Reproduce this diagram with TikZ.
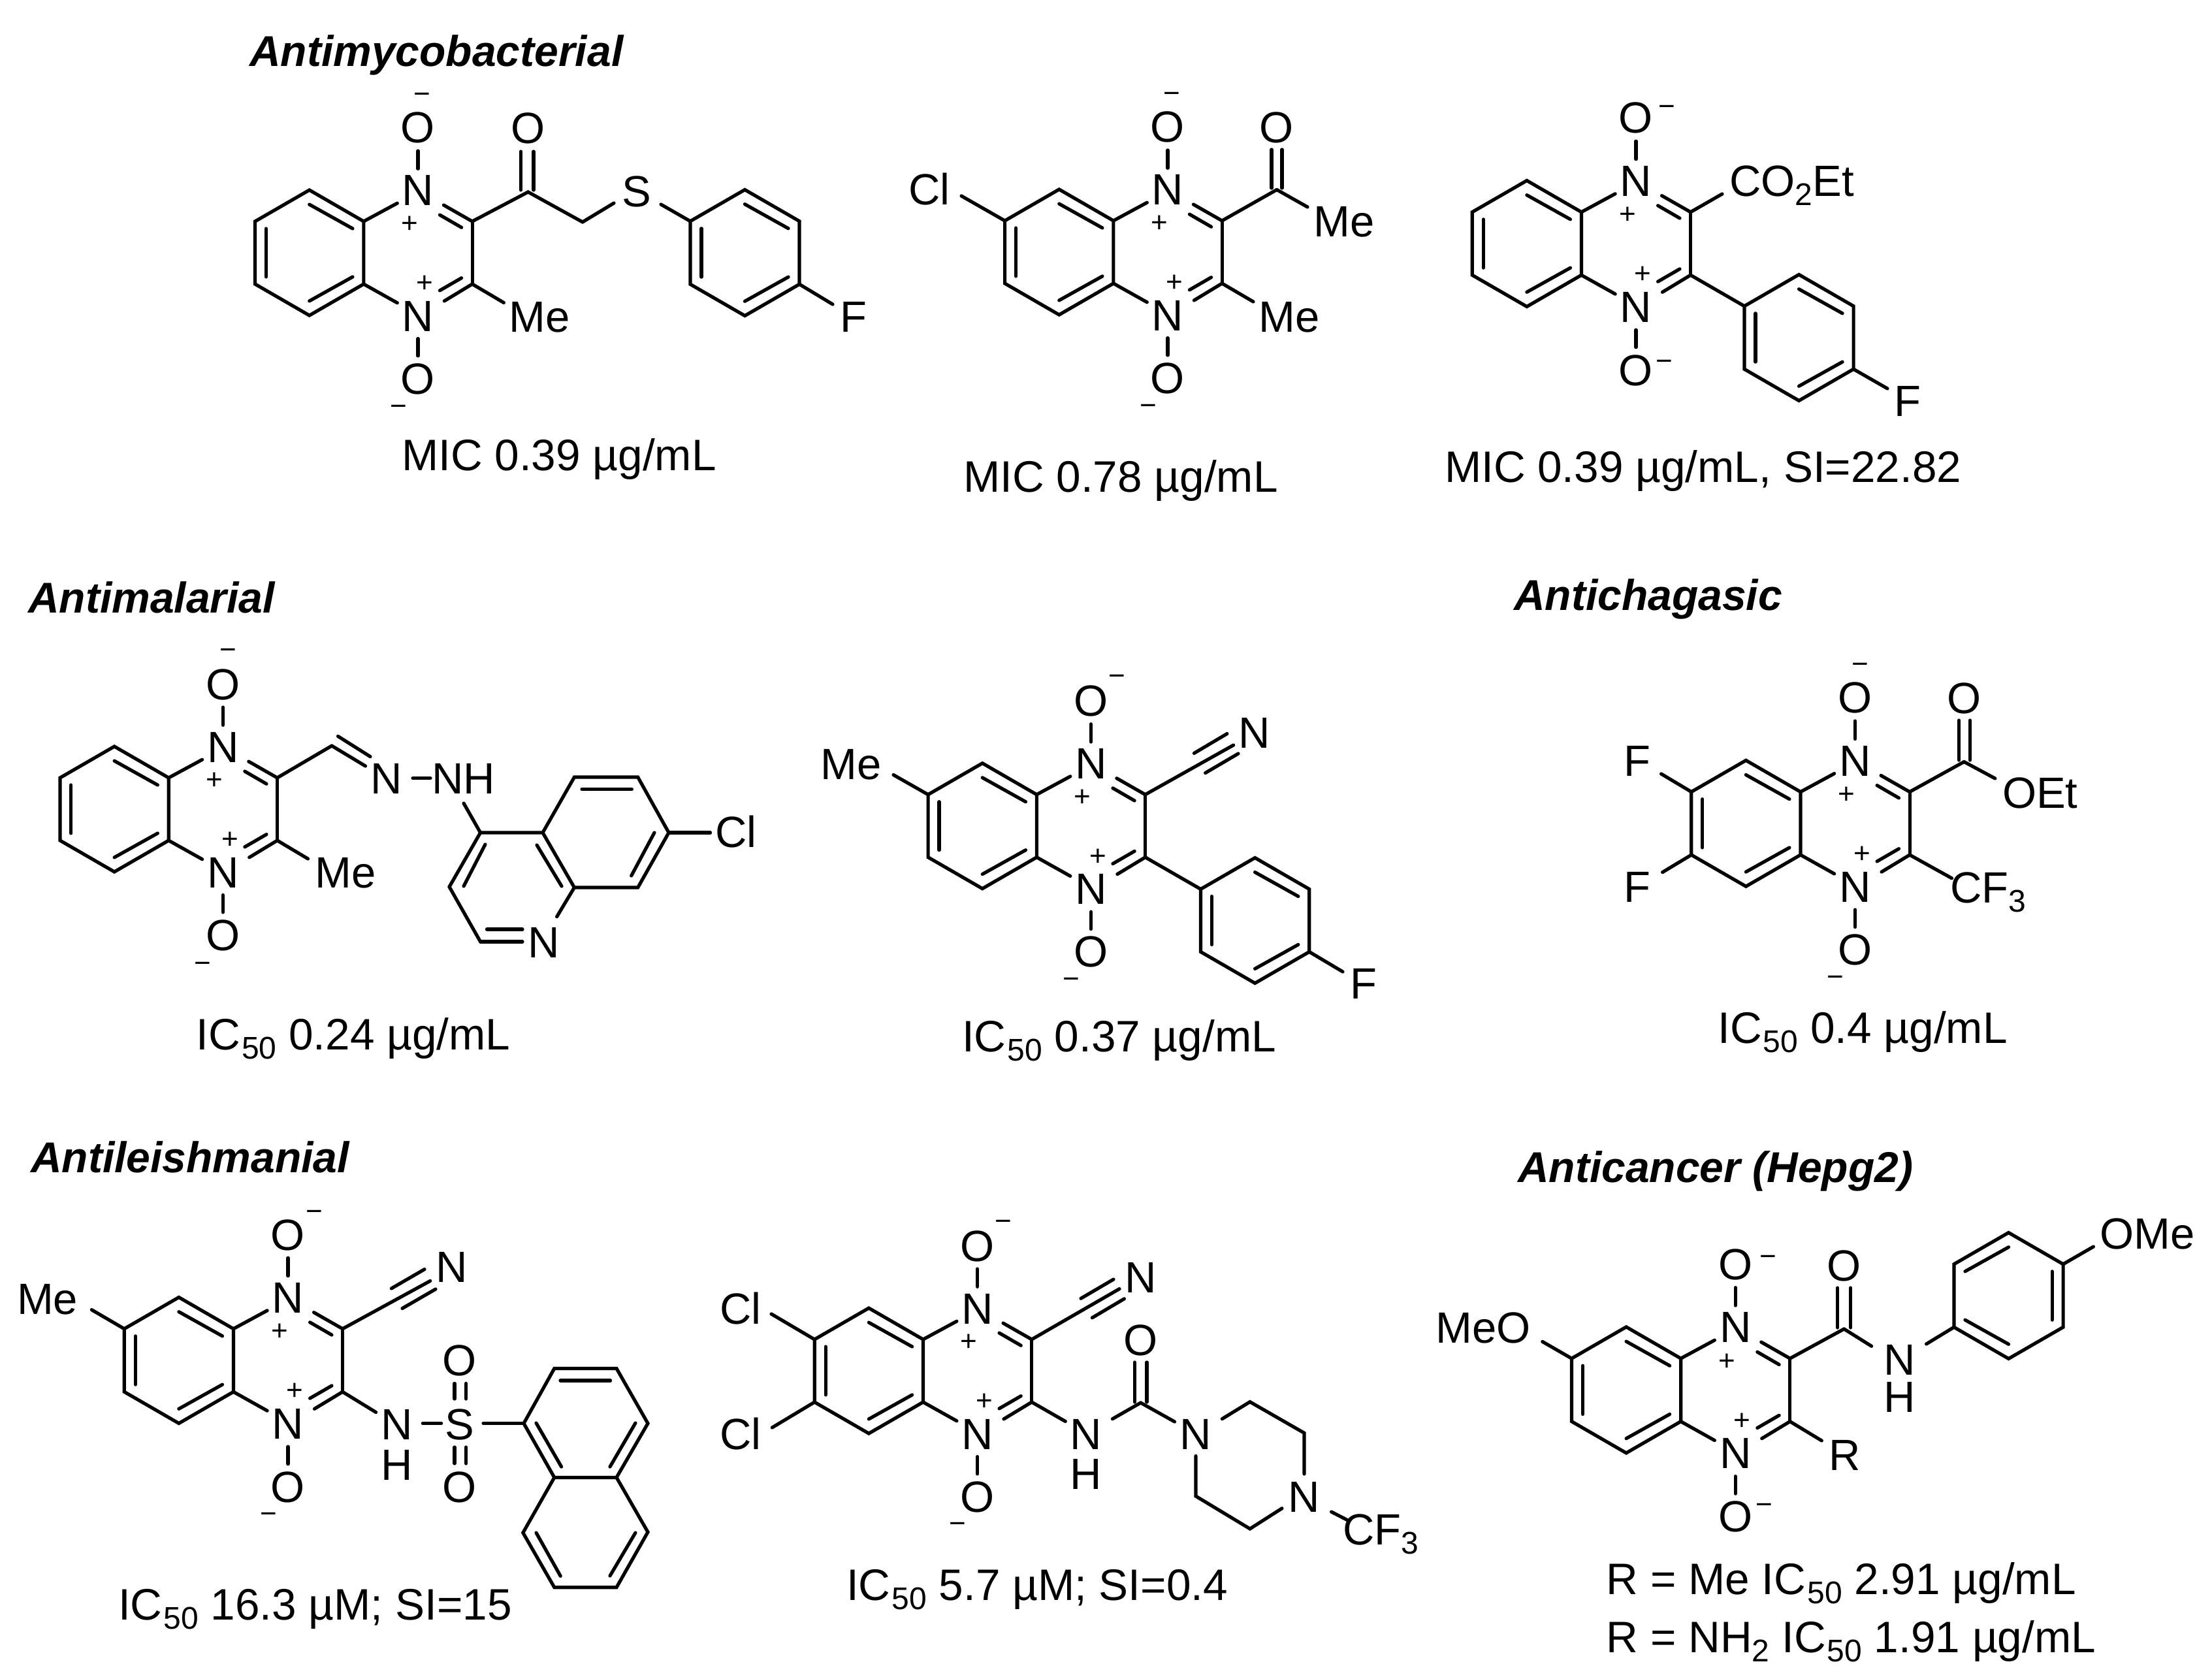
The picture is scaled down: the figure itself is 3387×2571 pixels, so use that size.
\documentclass[tikz,border=0pt]{standalone}
\usepackage{fontspec}
\setmainfont{Liberation Sans}
\newcommand\atomfont{\fontsize{67}{72}\selectfont}
\newcommand\capfont{\fontsize{67.5}{72}\selectfont}
\newcommand\hdrfont{\fontsize{66}{72}\selectfont}
\newcommand\chgfont{\fontsize{44}{48}\selectfont}
\newcommand\low[1]{\raisebox{-14pt}{\fontsize{48}{50}\selectfont #1}}
\newcommand\sublow[1]{\kern2pt\low{#1}}
\tikzset{
  bond/.style={line width=5.2pt,line cap=round,line join=miter,black},
  lab/.style={inner sep=0pt,text height=48pt,text depth=0pt,font=\atomfont,anchor=center},
  labw/.style={lab,anchor=west},
  chg/.style={inner sep=0pt,text height=29pt,text depth=0pt,font=\chgfont,anchor=center},
  capt/.style={inner sep=0pt,font=\capfont,anchor=base},
  captw/.style={capt,anchor=base west},
  hdr/.style={inner sep=0pt,font=\hdrfont\bfseries\itshape,anchor=base west},
}
% bond from a named point to a named free end
\newcommand\Bd[3]{\coordinate (#1) at (#3); \draw[bond] (#2) -- (#1);}
% free short stroke between two named ends
\newcommand\Ln[3]{\coordinate (#1a) at (#2); \coordinate (#1b) at (#3); \draw[bond] (#1a) -- (#1b);}
% benzene ring, pointy top: name, centre, bond length, sign (mirror)
\newcommand\arene[4]{%
  \begin{scope}[shift={(#2)},x=#4*#3pt,y=-#3pt]
    \coordinate (#1t) at (0,-1); \coordinate (#1ur) at (.866,-.5);
    \coordinate (#1lr) at (.866,.5); \coordinate (#1b) at (0,1);
    \coordinate (#1ll) at (-.866,.5); \coordinate (#1ul) at (-.866,-.5);
    \draw[bond] (#1t) -- (#1ur) -- (#1lr) -- (#1b) -- (#1ll) -- (#1ul) -- cycle;
    \Ln{#1i}{-.69,-.385}{-.69,.385}
    \Ln{#1j}{0,-.77}{.69,-.385}
    \Ln{#1k}{0,.77}{.69,.385}
  \end{scope}}
% quinoxaline dioxide core: name, cx, cy, L, top minus, bottom minus
\newcommand\qcore[6]{%
  \begin{scope}[shift={(#2,#3)},x=#4pt,y=-#4pt]
    \arene{#1r}{-1.732,0}{#4}{1}
    \coordinate (#1c2) at (.866,-.5); \coordinate (#1c3) at (.866,.5);
    \node[lab] (#1n1) at (0,-1) {N}; \node[lab] (#1n4) at (0,1) {N};
    \node[lab] (#1o1) at (0,-2) {O}; \node[lab] (#1o4) at (0,2) {O};
    \node[chg] (#1pa) at (-.135,-.465) {+}; \node[chg] (#1pb) at (.11,.48) {+};
    \node[chg] (#1ma) at (#5) {−}; \node[chg] (#1mb) at (#6) {−};
    \draw[bond] (#1c2) -- (#1c3);
    \Bd{#1ea}{#1rur}{-.33,-.79}
    \Bd{#1eb}{#1rlr}{-.33,.80}
    \Bd{#1ec}{#1c2}{.41,-.76}
    \Bd{#1ed}{#1c3}{.42,.77}
    \Ln{#1ie}{.348,-.603}{.694,-.403}
    \Ln{#1if}{.348,.603}{.694,.403}
    \Ln{#1og}{0,-1.34}{0,-1.625}
    \Ln{#1oh}{0,1.37}{0,1.645}
  \end{scope}}
\begin{document}
\begin{tikzpicture}[x=1pt,y=-1pt]
\useasboundingbox (0,0) rectangle (3387,2571);
\fill[white] (0,0) rectangle (3387,2571);

% headers
\node[hdr] (h1) at (382,102) {Antimycobacterial};
\node[hdr] (h2) at (43,938) {Antimalarial};
\node[hdr] (h3) at (2318,934) {Antichagasic};
\node[hdr] (h4) at (47,1795) {Antileishmanial};
\node[hdr] (h5) at (2324,1810) {Anticancer (Hepg2)};

% ---- molecule 1
\qcore{m1}{640}{387}{96}{.07,-2.53}{-.31,2.45}
\coordinate (m1co) at (808.6,294); \coordinate (m1ch) at (892,340);
\draw[bond] (m1c2) -- (m1co) -- (m1ch);
\node[lab] (m1ox) at (808.6,195.5) {O};
\Ln{m1da}{797.4,291}{797.4,232}
\Ln{m1db}{817,291}{817,232}
\node[lab] (m1s) at (975,292.4) {S};
\Bd{m1es}{m1ch}{940,311}
\arene{m1a}{1140.5,387}{96.5}{1}
\Bd{m1et}{m1aul}{1012,313}
\node[lab] (m1f) at (1306.7,484.3) {F};
\Bd{m1ef}{m1alr}{1275,466}
\node[lab] (m1me) at (826,484) {Me};
\Bd{m1em}{m1c3}{771.4,463.5}
\node[capt] (m1cap) at (856,720) {MIC 0.39 µg/mL};

% ---- molecule 2
\qcore{m2}{1788}{386}{96}{.07,-2.53}{-.31,2.45}
\node[lab] (m2cl) at (1423,290) {Cl};
\Bd{m2ecl}{m2rul}{1472,300}
\coordinate (m2co) at (1955,290.5);
\draw[bond] (m2c2) -- (m2co);
\node[lab] (m2ox) at (1955,194.5) {O};
\Ln{m2da}{1947,288}{1947,229}
\Ln{m2db}{1963,288}{1963,229}
\Bd{m2em2}{m2co}{2002,317}
\node[lab] (m2me2) at (2058,339) {Me};
\Bd{m2em}{m2c3}{1919,462}
\node[lab] (m2me) at (1974,484) {Me};
\node[capt] (m2cap) at (1716,753.5) {MIC 0.78 µg/mL};

% ---- molecule 3
\qcore{m3}{2505}{373}{96.5}{.49,-2.18}{.45,1.87}
\Bd{m3ee}{m3c2}{2637,297}
\node[labw] (m3est) at (2648,276.7) {CO\low{2}Et};
\arene{m3a}{2754.5,517}{96.5}{1}
\draw[bond] (m3c3) -- (m3aul);
\Bd{m3ef}{m3alr}{2890,595}
\node[lab] (m3f) at (2921,613) {F};
\node[capt] (m3cap) at (2607.6,738.5) {MIC 0.39 µg/mL, SI=22.82};

% ---- molecule 4
\qcore{m4}{341.4}{1239}{96}{.08,-2.54}{-.32,2.46}
\coordinate (m4ch) at (508,1142);
\draw[bond] (m4c2) -- (m4ch);
\Bd{m4en}{m4ch}{559.5,1173}
\Ln{m4dn}{517.5,1127.4}{567,1158.6}
\node[lab] (m4n) at (591.7,1191) {N};
\Ln{m4nn}{632,1191.6}{659,1191.6}
\node[lab] (m4nh) at (710,1191) {NH};
\Bd{m4em}{m4c3}{471.5,1315}
\node[lab] (m4me) at (529,1335.6) {Me};
\coordinate (q4) at (735.6,1275); \coordinate (q4a) at (831,1275);
\coordinate (q5) at (879.4,1190); \coordinate (q6) at (976.7,1190);
\coordinate (q7) at (1024,1275); \coordinate (q8) at (976.7,1359);
\coordinate (q8a) at (879.4,1359); \coordinate (q3) at (688,1358);
\coordinate (q2) at (735.6,1442);
\draw[bond] (q3) -- (q4) -- (q4a) -- (q5) -- (q6) -- (q7) -- (q8) -- (q8a) -- (q4a);
\draw[bond] (q3) -- (q2);
\Bd{q4e}{q4}{710,1230}
\Ln{qia}{891,1208.5}{967.4,1208.5}
\Ln{qib}{1002,1275}{966.7,1341}
\Ln{qic}{822,1294}{860,1357}
\Ln{qid}{743,1293}{710,1357}
\Bd{qne}{q2}{800,1442}
\Ln{qie}{745.5,1423}{800,1423}
\Bd{qnf}{q8a}{852.6,1403.7}
\node[lab] (qn) at (832.7,1442.7) {N};
\Bd{qcl}{q7}{1087.6,1275}
\node[lab] (qcln) at (1127,1273.6) {Cl};
\node[capt] (m4cap) at (541,1607.5) {IC\sublow{50} 0.24 µg/mL};

% ---- molecule 5
\qcore{m5}{1670.5}{1264.7}{96}{.42,-2.39}{-.31,2.44}
\node[lab] (m5me) at (1303,1169) {Me};
\Bd{m5em}{m5rul}{1368,1186.5}
\Bd{m5cn}{m5c2}{1888.6,1141}
\Ln{m5ca}{1828.4,1153.4}{1878.9,1123.5}
\Ln{m5cb}{1845.6,1183.6}{1896,1154}
\node[lab] (m5n) at (1921,1121) {N};
\arene{m5a}{1921.6,1409.5}{96}{1}
\draw[bond] (m5c3) -- (m5aul);
\Bd{m5ef}{m5alr}{2056,1488}
\node[lab] (m5f) at (2088,1505.7) {F};
\node[capt] (m5cap) at (1713.5,1610) {IC\sublow{50} 0.37 µg/mL};

% ---- molecule 6
\qcore{m6}{2840.5}{1260.8}{96.5}{.08,-2.53}{-.31,2.44}
\Bd{m6ef1}{m6rul}{2543.6,1185}
\node[lab] (m6f1) at (2507,1164.5) {F};
\Bd{m6ef2}{m6rll}{2545.6,1335.6}
\node[lab] (m6f2) at (2507,1357) {F};
\coordinate (m6co) at (3007.3,1166.5);
\draw[bond] (m6c2) -- (m6co);
\Ln{m6da}{2999.7,1164}{2999.7,1103}
\Ln{m6db}{3016.5,1164}{3016.5,1103}
\node[lab] (m6ox) at (3007.3,1068) {O};
\Bd{m6eo}{m6co}{3054.8,1192}
\node[lab] (m6oet) at (3123.7,1213.4) {OEt};
\Bd{m6ecf}{m6c3}{2988.5,1344.8}
\node[labw] (m6cf) at (2986,1358) {CF\low{3}};
\node[capt] (m6cap) at (2852,1597.6) {IC\sublow{50} 0.4 µg/mL};

% ---- molecule 7
\qcore{m7}{441}{2083}{96.5}{.42,-2.36}{-.31,2.44}
\node[lab] (m7me) at (72.7,1988.3) {Me};
\Bd{m7em}{m7rul}{140.3,2005.6}
\Bd{m7cn}{m7c2}{658.8,1961.4}
\Ln{m7ca}{599.3,1973}{650,1943.6}
\Ln{m7cb}{616,2003.5}{667,1974}
\node[lab] (m7n) at (691.3,1939.7) {N};
\Bd{m7en}{m7c3}{575.7,2162.6}
\node[lab] (m7nh) at (608,2180.4) {N};
\node[lab] (m7h) at (608,2242) {H};
\Ln{m7ns}{647.3,2179.6}{675.7,2179.6}
\node[lab] (m7s) at (704,2180.4) {S};
\node[lab] (m7o1) at (704,2082.8) {O};
\node[lab] (m7o2) at (704,2276.7) {O};
\Ln{m7da}{696,2142}{696,2118.4}
\Ln{m7db}{713.6,2142}{713.6,2118.4}
\Ln{m7dc}{696,2216}{696,2241}
\Ln{m7dd}{713.6,2216}{713.6,2241}
\coordinate (na1) at (802,2179.6); \coordinate (na2) at (848.8,2095.4);
\coordinate (na3) at (944,2095.4); \coordinate (na4) at (992,2179.6);
\coordinate (na5) at (944,2262.4); \coordinate (na6) at (848.8,2262.4);
\coordinate (nb1) at (800.8,2347); \coordinate (nb2) at (848.8,2430.7);
\coordinate (nb3) at (944,2430.7); \coordinate (nb4) at (992,2346);
\draw[bond] (na1) -- (na2) -- (na3) -- (na4) -- (na5) -- (na6) -- cycle;
\draw[bond] (na6) -- (nb1) -- (nb2) -- (nb3) -- (nb4) -- (na5);
\Bd{m7es}{na1}{740,2179.6}
\Ln{nia}{858,2114}{934.6,2114}
\Ln{nib}{821,2179}{859.6,2246}
\Ln{nic}{973,2179}{934,2246}
\Ln{nid}{821,2347}{858.2,2413.3}
\Ln{nie}{973,2347}{934,2413}
\node[capt] (m7cap) at (482.4,2480.6) {IC\sublow{50} 16.3 µM; SI=15};

% ---- molecule 8
\qcore{m8}{1496.6}{2099}{96}{.41,-2.39}{-.32,2.44}
\node[lab] (m8cl1) at (1134,2003.5) {Cl};
\Bd{m8e1}{m8rul}{1181,2012}
\node[lab] (m8cl2) at (1134,2195.6) {Cl};
\Bd{m8e2}{m8rll}{1182.3,2186}
\Bd{m8cn}{m8c2}{1714,1973.6}
\Ln{m8ca}{1655,1988.3}{1705,1959}
\Ln{m8cb}{1672.4,2017.8}{1721.4,1988.8}
\node[lab] (m8n) at (1746.6,1955) {N};
\Bd{m8en}{m8c3}{1631.3,2176.5}
\node[lab] (m8nh) at (1662.3,2195.6) {N};
\node[lab] (m8h) at (1662.3,2256.4) {H};
\coordinate (m8co) at (1746.6,2148);
\Bd{m8ea}{m8co}{1703.4,2172.7}
\Bd{m8eb}{m8co}{1798.5,2177}
\Ln{m8da}{1737.3,2147}{1737.3,2086}
\Ln{m8db}{1756,2147}{1756,2086}
\node[lab] (m8ox) at (1746.6,2051) {O};
\node[lab] (m8p1) at (1831,2195.6) {N};
\node[lab] (m8p2) at (1997,2291) {N};
\coordinate (m8pa) at (1913.9,2146.6); \coordinate (m8pb) at (1997,2194.3);
\coordinate (m8pc) at (1913.9,2341); \coordinate (m8pd) at (1831,2291);
\coordinate (m8pe) at (1871.3,2172.7); \coordinate (m8pf) at (1997,2257);
\coordinate (m8pg) at (1962.9,2309.7); \coordinate (m8ph) at (1831,2229.5);
\draw[bond] (m8pe) -- (m8pa) -- (m8pb) -- (m8pf);
\draw[bond] (m8pg) -- (m8pc) -- (m8pd) -- (m8ph);
\Ln{m8cf}{2038.6,2315}{2063.8,2328}
\node[labw] (m8cf3) at (2056,2341) {CF\low{3}};
\node[capt] (m8cap) at (1588,2450.6) {IC\sublow{50} 5.7 µM; SI=0.4};

% ---- molecule 9
\qcore{m9}{2657.2}{2128.4}{96.5}{.52,-2.12}{.46,1.82}
\node[lab] (m9meo) at (2271,2032.9) {MeO};
\Bd{m9em}{m9rul}{2361.8,2054.4}
\Bd{m9er}{m9c3}{2789.3,2206}
\node[lab] (m9r) at (2825,2227) {R};
\coordinate (m9co) at (2823.6,2035);
\draw[bond] (m9c2) -- (m9co);
\Ln{m9da}{2813.7,2033}{2813.7,1972}
\Ln{m9db}{2833.6,2033}{2833.6,1972}
\node[lab] (m9ox) at (2823.6,1937.4) {O};
\Bd{m9en}{m9co}{2865.6,2061.3}
\node[lab] (m9nh) at (2909,2081) {N};
\node[lab] (m9h) at (2909,2138.5) {H};
\arene{m9a}{3075.5,1984}{96.5}{-1}
\Bd{m9ea}{m9alr}{2949.6,2058}
\Bd{m9eo}{m9aul}{3205.4,1909}
\node[lab] (m9ome) at (3287.8,1888) {OMe};
\node[captw] (m9c1) at (2459.5,2441.6) {R = Me IC\sublow{50} 2.91 µg/mL};
\node[captw] (m9c2t) at (2459.5,2530) {R = NH\low{2} IC\sublow{50} 1.91 µg/mL};
\end{tikzpicture}
\end{document}
